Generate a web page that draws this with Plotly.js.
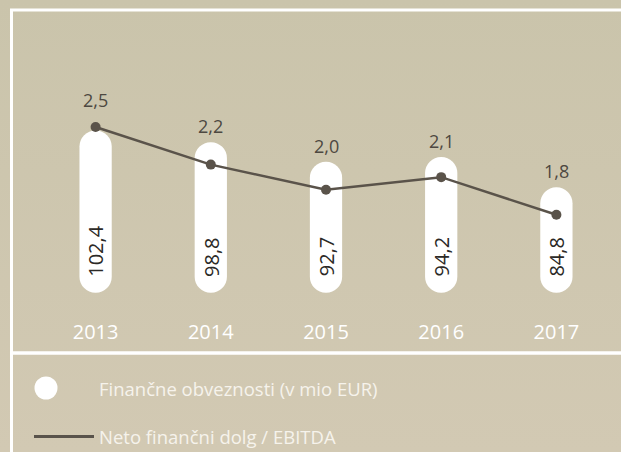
<!DOCTYPE html>
<html>
<head>
<meta charset="utf-8">
<script src="https://cdn.plot.ly/plotly-3.0.1.min.js"></script>
<style>
  html, body { margin: 0; padding: 0; }
  body { width: 621px; height: 452px; overflow: hidden;
         background: linear-gradient(#cac4ab, #d2c9b3); }
  #chart { width: 621px; height: 452px; }
</style>
</head>
<body>
<div id="chart"></div>
<script>
// ---- data ----
const years = ['2013', '2014', '2015', '2016', '2017'];
const financialLiabilities = [102.4, 98.8, 92.7, 94.2, 84.8];
const netDebtToEbitda = [2.5, 2.2, 2.0, 2.1, 1.8];
const liabilitiesName = 'Finančne obveznosti (v mio EUR)';
const ratioName = 'Neto finančni dolg / EBITDA';

// ---- layout constants ----
const W = 621, H = 452;
const ml = 38, mr = 7, mt = 20, mb = 134;
const pw = W - ml - mr, ph = H - mt - mb;
const yRange = [44.13, 136.79];
const y2Range = [0.976, 3.354];
const barBase = 52;
const FONT = '"Open Sans", "Liberation Sans", sans-serif';
const fmt = v => v.toFixed(1).replace('.', ',');

const yPx = v => mt + ph * (yRange[1] - v) / (yRange[1] - yRange[0]);
const y2Px = v => mt + ph * (y2Range[1] - v) / (y2Range[1] - y2Range[0]);
const pxToY = p => yRange[1] - (p - mt) * (yRange[1] - yRange[0]) / ph;
const px2paperX = p => (p - ml) / pw;
const px2paperY = p => (H - mb - p) / ph;

const bars = {
  type: 'bar', x: years,
  base: years.map(() => barBase),
  y: financialLiabilities.map(v => v - barBase),
  width: 0.28,
  marker: { color: '#ffffff', cornerradius: '50%', line: { width: 0 } },
  hoverinfo: 'skip', showlegend: false, name: liabilitiesName
};
const line = {
  type: 'scatter', mode: 'lines+markers', x: years, y: netDebtToEbitda,
  yaxis: 'y2', name: ratioName,
  line: { color: '#5a534a', width: 2.5 },
  marker: { color: '#5a534a', size: 10 },
  hoverinfo: 'skip', showlegend: false
};

const annotations = [];
// values inside the pills (rotated)
years.forEach((yr, i) => {
  annotations.push({
    x: i, xref: 'x', y: barBase, yref: 'y',
    text: fmt(financialLiabilities[i]), showarrow: false,
    textangle: -90, yanchor: 'bottom', xanchor: 'center', yshift: 14,
    font: { family: FONT, size: 20, color: '#2b2926' }
  });
});
// ratio labels above whichever is higher: pill top or dot
years.forEach((yr, i) => {
  const top = Math.min(yPx(financialLiabilities[i]), y2Px(netDebtToEbitda[i]) - 11);
  annotations.push({
    x: i, xref: 'x', y: pxToY(top - 16), yref: 'y',
    text: fmt(netDebtToEbitda[i]), showarrow: false,
    yanchor: 'middle', xanchor: 'center',
    font: { family: FONT, size: 18, color: '#4d4841' }
  });
});
// legend texts
annotations.push({
  x: px2paperX(97), xref: 'paper', y: px2paperY(388), yref: 'paper',
  text: liabilitiesName, showarrow: false, xanchor: 'left', yanchor: 'middle',
  font: { family: FONT, size: 18.5, color: '#f6f3ec' }
});
annotations.push({
  x: px2paperX(97), xref: 'paper', y: px2paperY(436), yref: 'paper',
  text: ratioName, showarrow: false, xanchor: 'left', yanchor: 'middle',
  font: { family: FONT, size: 18.5, color: '#f6f3ec' }
});

const shapes = [
  // frame lines
  { type: 'line', xref: 'paper', yref: 'paper', x0: px2paperX(10), x1: px2paperX(625),
    y0: px2paperY(10), y1: px2paperY(10), line: { color: '#ffffff', width: 3 } },
  { type: 'line', xref: 'paper', yref: 'paper', x0: px2paperX(11.5), x1: px2paperX(11.5),
    y0: px2paperY(9), y1: px2paperY(460), line: { color: '#ffffff', width: 3 } },
  { type: 'line', xref: 'paper', yref: 'paper', x0: px2paperX(10), x1: px2paperX(625),
    y0: px2paperY(353), y1: px2paperY(353), line: { color: '#ffffff', width: 3.5 } },
  // legend symbols
  { type: 'circle', xref: 'paper', yref: 'paper',
    x0: px2paperX(34.5), x1: px2paperX(57.5), y0: px2paperY(376.5), y1: px2paperY(399.5),
    fillcolor: '#ffffff', line: { width: 0 } },
  { type: 'line', xref: 'paper', yref: 'paper',
    x0: px2paperX(34), x1: px2paperX(94), y0: px2paperY(436.5), y1: px2paperY(436.5),
    line: { color: '#59534b', width: 3 } }
];

const layout = {
  width: W, height: H,
  margin: { l: ml, r: mr, t: mt, b: mb, pad: 0 },
  paper_bgcolor: 'rgba(0,0,0,0)', plot_bgcolor: 'rgba(0,0,0,0)',
  barmode: 'overlay', showlegend: false, hovermode: false,
  xaxis: {
    type: 'category', range: [-0.5, 4.5], showgrid: false, zeroline: false,
    showline: false, ticks: '', fixedrange: true,
    tickfont: { family: FONT, size: 20, color: '#ffffff' }
  },
  yaxis: { range: yRange, visible: false, fixedrange: true },
  yaxis2: { range: y2Range, overlaying: 'y', visible: false, fixedrange: true },
  annotations: annotations,
  shapes: shapes
};

Plotly.newPlot('chart', [bars, line], layout, { displayModeBar: false, staticPlot: true });
</script>
</body>
</html>
